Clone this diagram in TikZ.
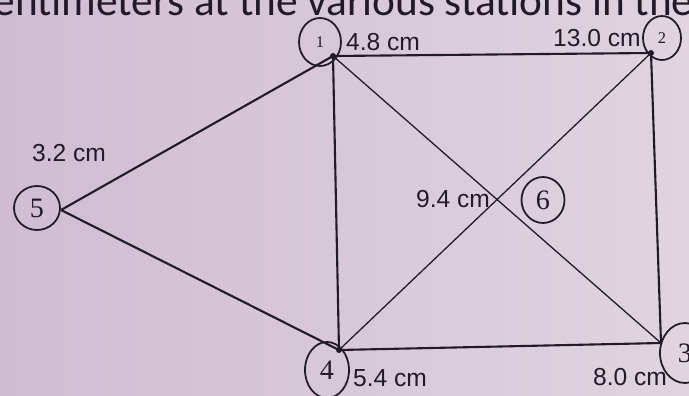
\documentclass[tikz,border=0pt]{standalone}
\usepackage{fontspec}
\setmainfont{Liberation Serif}
\setsansfont{Liberation Sans}
\newfontfamily\headfont{Carlito}
\usepackage{xcolor}
\definecolor{paperPink}{HTML}{CFBDD1}
\definecolor{paperLight}{HTML}{E0D4E0}
\definecolor{inkDark}{HTML}{221A29}
\usetikzlibrary{shapes.geometric,positioning}
\tikzset{
  every picture/.append style={font=\sffamily},
  station/.style={ellipse,draw=inkDark,line width=1.5pt,inner sep=0pt,text=inkDark,font=\rmfamily\fontsize{24}{24}\selectfont},
  smallno/.style={font=\rmfamily\fontsize{14}{14}\selectfont},
  dist/.style={inner sep=0pt,text=inkDark,font=\sffamily\fontsize{21}{24}\selectfont},
  side/.style={draw=inkDark,line width=1.8pt},
  diag/.style={draw=inkDark,line width=1.1pt},
  joint/.style={fill=inkDark},
}

\begin{document}
\begin{tikzpicture}[x=0.03cm,y=-0.03cm]
  \useasboundingbox (0,0) rectangle (689,396);
  \shade[left color=paperPink,right color=paperLight] (0,0) rectangle (689,396);
  \clip (0,0) rectangle (689,396);

  % book line cut off at the top
  \node[anchor=base west,inner sep=0pt,text=inkDark,font=\headfont\fontsize{37}{40}\selectfont] (head) at (-25,16) {centimeters at the various stations in the};

  % stations
  \coordinate (s1) at (333,56);
  \coordinate (s2) at (651,53);
  \coordinate (s3) at (661,343);
  \coordinate (s4) at (339,350);
  \coordinate (s5) at (61,210);
  \coordinate (s6) at (intersection of s1--s3 and s2--s4);

  \draw[side] (s5) -- (s1) -- (s2) -- (s3) -- (s4) -- (s5);
  \draw[side] (s1) -- (s4);
  \draw[diag] (s1) -- (s3);
  \draw[diag] (s2) -- (s4);
  \foreach \s in {s1,s2,s4}
    \fill[joint] (\s) circle (3);

  \node[station,smallno,minimum width=1.26cm,minimum height=1.44cm] (c1) at (320,42) {1};
  \node[station,smallno,minimum width=1.14cm,minimum height=1.32cm] (c2) at (662,38) {2};
  \node[station,minimum width=1.5cm,minimum height=1.8cm] (c3) at (685,353) {3};
  \node[station,minimum width=1.32cm,minimum height=1.68cm] (c4) at (327,370) {4};
  \node[station,minimum width=1.38cm,minimum height=1.32cm] (c5) at (37,208) {5};
  \node[station,minimum width=1.29cm,minimum height=1.38cm] (c6) at (543,200) {6};

  % readings
  \node[dist] (d1) at (383,42) {4.8 cm};
  \node[dist] (d2) at (597,38) {13.0 cm};
  \node[dist] (d3) at (630,377) {8.0 cm};
  \node[dist] (d4) at (390,378) {5.4 cm};
  \node[dist] (d5) at (69,153) {3.2 cm};
  \node[dist] (d6) at (453,199) {9.4 cm};
\end{tikzpicture}
\end{document}
